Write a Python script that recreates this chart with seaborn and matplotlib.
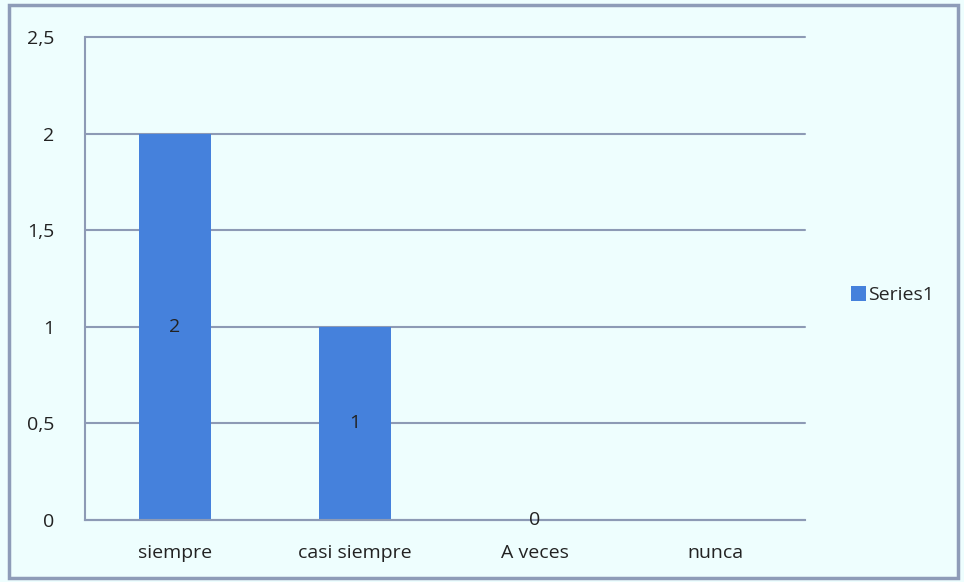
import pandas as pd
import seaborn as sns
import matplotlib.pyplot as plt
from matplotlib.patches import Rectangle

# data
categorias = ['siempre', 'casi siempre', 'A veces', 'nunca']
valores = [2, 1, 0, None]
serie = 'Series1'

df = pd.DataFrame({'categoria': categorias, 'valor': valores})

sns.set_style('white')
plt.rcParams['font.family'] = ['Open Sans', 'DejaVu Sans']

fondo = '#EEFEFE'
linea = '#8D9AB5'
azul = '#4581DC'
texto = '#222222'
fs = 14

fig = plt.figure(figsize=(9.64, 5.82), dpi=100, facecolor=fondo)
ax = fig.add_axes([0.0882, 0.1065, 0.7468, 0.83])
ax.set_facecolor(fondo)

sns.barplot(data=df, x='categoria', y='valor', color=azul, width=0.4,
            label=serie, ax=ax, saturation=1, linewidth=0)

# data labels centred in the bars
for i, v in enumerate(valores):
    if v is not None:
        ax.text(i, v / 2, str(v), ha='center', va='center', fontsize=fs, color=texto, zorder=5)

ax.set_ylim(0, 2.5)
ax.set_xlim(-0.5, 3.5)
ax.set_yticks([0, 0.5, 1, 1.5, 2, 2.5])
ax.set_yticklabels(['0', '0,5', '1', '1,5', '2', '2,5'])
ax.yaxis.grid(True, color=linea, linewidth=1.5)
for gl in ax.yaxis.get_gridlines():
    gl.set_clip_on(False)
ax.set_axisbelow(True)
ax.set_xlabel('')
ax.set_ylabel('')

for s in ['top', 'right']:
    ax.spines[s].set_visible(False)
for s in ['left', 'bottom']:
    ax.spines[s].set_color(linea)
    ax.spines[s].set_linewidth(1.5)

# x ticks sit between categories, labels centred under the bars
ax.set_xticks([-0.5, 0.5, 1.5, 2.5, 3.5])
ax.set_xticklabels([])
ax.set_xticks(range(len(categorias)), minor=True)
ax.set_xticklabels(categorias, minor=True)
ax.tick_params(axis='x', which='major', direction='out', length=6, width=1.5, color=linea)
ax.tick_params(axis='x', which='minor', length=0, pad=17, labelsize=fs, labelcolor=texto)
ax.tick_params(axis='y', direction='out', length=7, width=1.5, color=linea, labelsize=fs,
               labelcolor=texto, pad=15)

ax.legend(loc='center left', bbox_to_anchor=(843 / 964, 1 - 295 / 582),
          bbox_transform=fig.transFigure, frameon=False, fontsize=fs,
          handlelength=0.8, handleheight=0.8, handletextpad=0.1, borderaxespad=0)

fig.patches.append(Rectangle((0.009, 0.007), 0.985, 0.985, transform=fig.transFigure,
                             fill=False, edgecolor='#8E9CB8', linewidth=2.5))

fig.savefig('out.png', dpi=100, facecolor=fondo)
